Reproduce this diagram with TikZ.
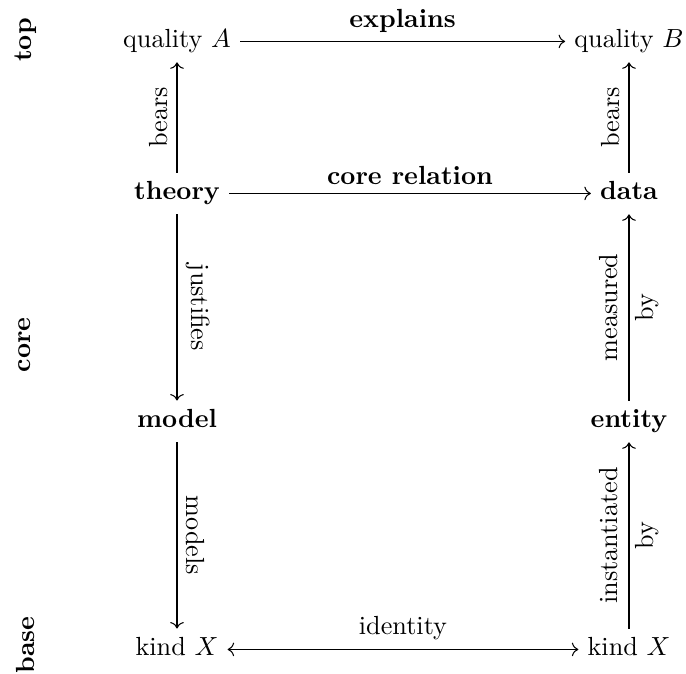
\documentclass[tikz,border=0pt]{standalone}
\usetikzlibrary{arrows.meta}
\begin{document}
\begin{tikzpicture}[x=0.3817pt,y=-0.3817pt,
  >={Computer Modern Rightarrow},
  obj/.style={inner sep=3.33pt, text height=6.94pt, text depth=1.94pt, anchor=base},
  bobj/.style={obj, font=\bfseries},
  lev/.style={font=\bfseries, rotate=90, inner sep=0pt},
  lbl/.style={midway, inner sep=3.33pt}]
\useasboundingbox (0,0) rectangle (686,674);
% level labels
\node[lev] (ltop) at (26,40) {top};
\node[lev] (lcore) at (25,345) {core};
\node[lev] (lbase) at (25,645) {base};
% objects
\node[obj]  (qA) at (177,48)  {quality $A$};
\node[obj]  (qB) at (629,48)  {quality $B$};
\node[bobj] (th) at (177,200) {theory};
\node[bobj] (da) at (629,200) {data};
\node[bobj] (mo) at (177,428) {model};
\node[bobj] (en) at (629,428) {entity};
\node[obj]  (kl) at (177,656) {kind $X$};
\node[obj]  (kr) at (629,656) {kind $X$};
% horizontal arrows
\draw[->] (qA) -- node[lbl, above, font=\bfseries] (lex) {explains} (qB);
\draw[->] (th) -- node[lbl, above, font=\bfseries] (lcr) {core relation} (da);
\draw[<->] (kl) -- node[lbl, above] (lid) {identity} (kr);
% vertical arrows
\draw[->] (th) -- node[lbl, anchor=south, rotate=90] (lb1) {bears} (qA);
\draw[->] (da) -- node[lbl, anchor=south, rotate=90] (lb2) {bears} (qB);
\draw[->] (th) -- node[lbl, anchor=south, rotate=-90] (lj) {justifies} (mo);
\draw[->] (mo) -- node[lbl, anchor=south, rotate=-90] (lm) {models} (kl);
\draw[->] (en) -- node[lbl, rotate=90, align=center] (lmb) {measured\\[2pt]by} (da);
\draw[->] (kr) -- node[lbl, rotate=90, align=center] (lib) {instantiated\\[2pt]by} (en);
\end{tikzpicture}
\end{document}
